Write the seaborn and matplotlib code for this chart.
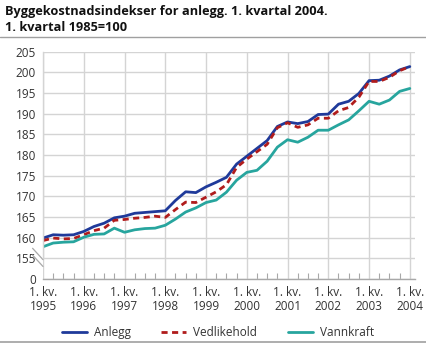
import numpy as np
import pandas as pd
import seaborn as sns
import matplotlib
matplotlib.use("Agg")
import matplotlib.pyplot as plt
from matplotlib.lines import Line2D

quarters = list(range(37))  # 1. kv. 1995 .. 1. kv. 2004
year_labels = ["1. kv.\n1995", "1. kv.\n1996", "1. kv.\n1997", "1. kv.\n1998", "1. kv.\n1999",
               "1. kv.\n2000", "1. kv.\n2001", "1. kv.\n2002", "1. kv.\n2003", "1. kv.\n2004"]

anlegg = [159.9, 160.7, 160.6, 160.7, 161.5, 162.7, 163.5, 164.8, 165.2, 165.9,
          166.1, 166.3, 166.5, 169.0, 171.1, 170.9, 172.3, 173.4, 174.6, 177.8,
          179.7, 181.6, 183.5, 186.9, 188.0, 187.6, 188.1, 189.8, 189.9, 192.3,
          193.0, 194.9, 198.0, 198.1, 199.1, 200.6, 201.4]
vedlikehold = [159.3, 159.9, 159.7, 159.8, 160.7, 161.7, 162.3, 164.2, 164.4, 164.7,
               164.9, 165.2, 164.9, 166.8, 168.6, 168.5, 169.8, 171.1, 172.8, 177.0,
               179.0, 180.8, 182.6, 186.6, 187.8, 186.7, 187.3, 188.9, 188.9, 190.7,
               191.5, 194.0, 197.8, 197.8, 198.8, 200.4, 201.4]
vannkraft = [157.8, 158.7, 158.9, 159.0, 160.1, 160.8, 160.9, 162.3, 161.3, 161.9,
             162.2, 162.3, 163.0, 164.5, 166.2, 167.2, 168.5, 169.1, 171.0, 173.9,
             175.8, 176.3, 178.5, 181.9, 183.7, 183.1, 184.3, 186.0, 186.0, 187.3,
             188.5, 190.7, 193.0, 192.3, 193.3, 195.4, 196.1]

series_names = ["Anlegg", "Vedlikehold", "Vannkraft"]
colors = {"Anlegg": "#1f3a9a", "Vedlikehold": "#b01c1c", "Vannkraft": "#27a59e"}
dashes = {"Anlegg": "", "Vedlikehold": (2.2, 1.6), "Vannkraft": ""}

ytick_vals = [150, 155, 160, 165, 170, 175, 180, 185, 190, 195, 200, 205]
ytick_labels = ["0", "155", "160", "165", "170", "175", "180", "185", "190", "195", "200", "205"]

df = pd.DataFrame({"q": quarters, "Anlegg": anlegg, "Vedlikehold": vedlikehold, "Vannkraft": vannkraft})
long = df.melt(id_vars="q", var_name="serie", value_name="indeks")

sns.set_theme(style="white")
plt.rcParams["font.family"] = ["Open Sans", "DejaVu Sans"]

fig = plt.figure(figsize=(4.27, 3.44), dpi=100)
ax = fig.add_axes([0.1007, 0.189, 0.871, 0.6607])

sns.lineplot(data=long, x="q", y="indeks", hue="serie", style="serie",
             hue_order=series_names, style_order=series_names,
             palette=colors, dashes=dashes, linewidth=2.0, ax=ax, legend=False)

ax.set_xlim(0, 36.5)
ax.set_ylim(150, 205)
ax.set_xticks(list(range(0, 37, 4)))
ax.set_xticklabels(year_labels, linespacing=1.15)
ax.set_xticks(quarters, minor=True)
ax.set_yticks(ytick_vals)
ax.set_yticklabels(ytick_labels)
ax.set_xlabel("")
ax.set_ylabel("")

gridc = "#d4d4d4"
ax.grid(True, which="major", color=gridc, linewidth=1.0)
ax.set_axisbelow(True)
for s in ["top", "right"]:
    ax.spines[s].set_visible(False)
ax.spines["bottom"].set_color("#a8a8a8")
ax.spines["bottom"].set_linewidth(1.0)
ax.spines["left"].set_color(gridc)
ax.spines["left"].set_linewidth(1.0)
ax.spines["left"].set_bounds(155, 205)

ax.tick_params(axis="x", which="major", length=0, pad=5, labelsize=8.5, labelcolor="#333333")
ax.tick_params(axis="x", which="minor", direction="in", length=4, width=0.8, color="#a8a8a8", bottom=True)
ax.tick_params(axis="y", which="both", length=0, pad=5, labelsize=8.5, labelcolor="#333333")

# axis break marks
for dy in (0.0, 0.03):
    ax.plot([-0.028, 0.0], [0.135 - dy, 0.085 - dy], transform=ax.transAxes,
            color="#a8a8a8", linewidth=0.9, clip_on=False)

fig.text(0.012, 0.985, "Byggekostnadsindekser for anlegg. 1. kvartal 2004.\n1. kvartal 1985=100",
         fontsize=9.2, fontweight="bold", va="top", ha="left", color="#111111", linespacing=1.3)
fig.add_artist(Line2D([0, 1], [0.893, 0.893], transform=fig.transFigure, color="#a0a0a0", linewidth=1.0))
fig.add_artist(Line2D([0, 1], [0.006, 0.006], transform=fig.transFigure, color="#a0a0a0", linewidth=1.2))

handles = [Line2D([], [], color=colors["Anlegg"], linewidth=2.0),
           Line2D([], [], color=colors["Vedlikehold"], linewidth=2.0, linestyle=(0, (2.2, 1.6))),
           Line2D([], [], color=colors["Vannkraft"], linewidth=2.0)]
fig.legend(handles, series_names, loc="center", bbox_to_anchor=(0.51, 0.032), ncol=3,
           frameon=False, fontsize=8.5, handlelength=2.1, columnspacing=2.6, handletextpad=0.6,
           labelcolor="#333333")

fig.savefig("out.png", dpi=100)
